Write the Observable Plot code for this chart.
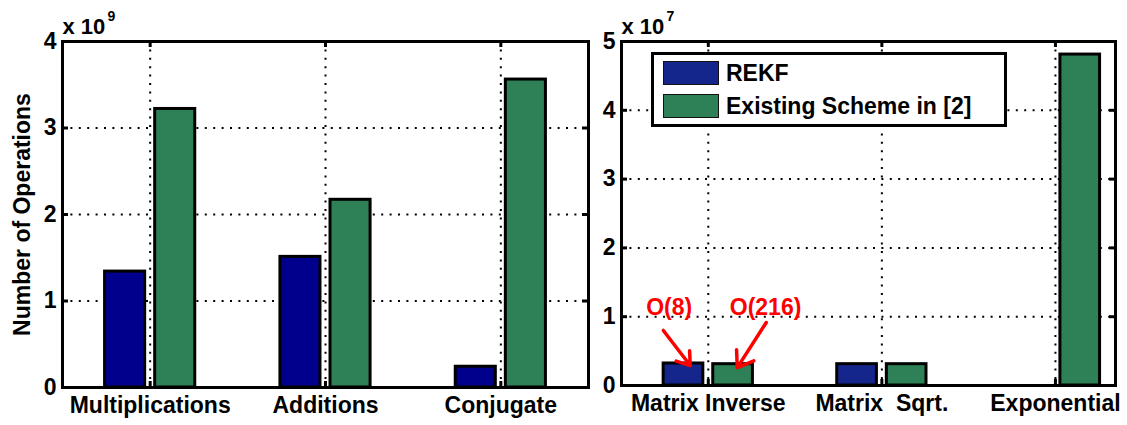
<!DOCTYPE html>
<html><head><meta charset="utf-8">
<script src="https://cdn.jsdelivr.net/npm/d3@7"></script>
<script src="https://cdn.jsdelivr.net/npm/@observablehq/plot@0.6"></script>
<style>
body{margin:0;background:#fff;}
#wrap{position:relative;width:1127px;height:425px;overflow:hidden;background:#fff;font-family:"Liberation Sans",Arial,sans-serif;font-weight:bold;}
#left,#right{position:absolute;top:0}
#left{left:0}
#right{left:600px}
svg{overflow:visible}
svg text{white-space:pre}
#legend{position:absolute;left:651px;top:52px;width:356px;height:75px;box-sizing:border-box;border:3px solid #000;background:#fff;}
.sw{position:absolute;left:9px;width:56px;height:24px;box-sizing:border-box;border:1.5px solid #111;}
.lt{position:absolute;left:72px;font-size:23px;line-height:24px;white-space:nowrap;color:#000;}
</style></head><body>
<div id="wrap"><div id="left"></div><div id="right"></div><div id="legend"></div></div>
<script>
// ---- data ----
const seriesNames = ["REKF", "Existing Scheme in [2]"];
const leftCategories = ["Multiplications", "Additions", "Conjugate"];
const leftREKF = [1.34, 1.51, 0.24];        // x 10^9
const leftExisting = [3.22, 2.17, 3.56];    // x 10^9
const leftYTicks = [0, 1, 2, 3, 4];
const leftExponent = "9";
const rightCategories = ["Matrix Inverse", "Matrix  Sqrt.", "Exponential"];
const rightREKF = [0.32, 0.31, 0];          // x 10^7
const rightExisting = [0.31, 0.31, 4.81];   // x 10^7
const rightYTicks = [0, 1, 2, 3, 4, 5];
const rightExponent = "7";
const annoLabels = ["O(8)", "O(216)"];
const annoX = [0.775, 1.33];
const annoY = [1.03, 1.03];
const arrowX1 = [0.741, 1.334], arrowY1 = [0.80, 0.916];
const arrowX2 = [0.896, 1.167], arrowY2 = [0.29, 0.26];
const leftColors = ["#00008c", "#2e8057"];
const rightColors = ["#14268c", "#2e8057"];

const FONT = "'Liberation Sans', Arial, sans-serif";
const FS = 23;

function panel({cats, rekf, existing, yTicks, xMax, width, marginLeft, marginRight, marginBottom, exponent, colors, extra = [], ylabel = null}) {
  const marginTop = 41, height = 425;
  const H = height - marginTop - marginBottom;
  const W = width - marginLeft - marginRight;
  const rows = [];
  cats.forEach((c, i) => {
    [rekf[i], existing[i]].forEach((v, s) => { if (v > 0) rows.push({cat: c, pos: i + 1, s, value: v}); });
  });
  const gw = Math.min(0.8, 2 / 3.5);   // MATLAB grouped-bar width
  const bw = gw / 2 * 0.8;
  const off = s => (2 * s + 1) * gw / 4 - gw / 2;
  const pos = cats.map((c, i) => i + 1);
  const yMax = yTicks[yTicks.length - 1];
  const dotted = {stroke: "black", strokeOpacity: 1, strokeWidth: 2, strokeDasharray: "2,6.4"};
  const marks = [
    Plot.gridX(pos, dotted),
    Plot.gridY(yTicks.slice(1, -1), dotted),
    Plot.tickX(pos, {x: d => d, insetBottom: H - 6, stroke: "black", strokeWidth: 3}),
    Plot.tickX(pos, {x: d => d, insetTop: H - 6, stroke: "black", strokeWidth: 3}),
    Plot.tickY(yTicks, {y: d => d, insetRight: W - 6, stroke: "black", strokeWidth: 3}),
    Plot.tickY(yTicks, {y: d => d, insetLeft: W - 6, stroke: "black", strokeWidth: 3}),
    Plot.rectY(rows, {x1: d => d.pos + off(d.s) - bw / 2, x2: d => d.pos + off(d.s) + bw / 2, y: "value",
      fill: d => colors[d.s], stroke: "black", strokeWidth: 3}),
    Plot.axisX(pos, {tickFormat: p => cats[p - 1], tickSize: 0, tickPadding: 9, label: null, fontSize: FS, fontWeight: "bold", fill: "black"}),
    Plot.axisY(yTicks, {tickFormat: d => String(d), tickSize: 0, tickPadding: 6, label: null, fontSize: FS, fontWeight: "bold", fill: "black"}),
    Plot.frame({stroke: "black", strokeWidth: 3}),
    Plot.text(["x 10"], {frameAnchor: "top-left", textAnchor: "start", lineAnchor: "bottom", dy: -8, fontSize: 22, fontWeight: "bold"}),
    Plot.text([exponent], {frameAnchor: "top-left", textAnchor: "start", lineAnchor: "bottom", dx: 45, dy: -21, fontSize: 14, fontWeight: "bold"}),
    ...extra
  ];
  if (ylabel) marks.push(Plot.text([ylabel], {frameAnchor: "left", textAnchor: "middle", rotate: -90, dx: -40, fontSize: FS, fontWeight: "bold"}));
  return Plot.plot({
    width, height, marginTop, marginBottom, marginLeft, marginRight,
    style: {fontFamily: FONT, fontWeight: "bold", fontSize: FS + "px", background: "transparent", overflow: "visible", color: "black"},
    x: {type: "linear", domain: [0.5, xMax]},
    y: {domain: [0, yMax]},
    color: {type: "identity"},
    marks
  });
}

document.getElementById("left").append(panel({
  cats: leftCategories, rekf: leftREKF, existing: leftExisting, yTicks: leftYTicks, xMax: 3.5,
  width: 600, marginLeft: 62, marginRight: 12, marginBottom: 38, exponent: leftExponent,
  colors: leftColors, ylabel: "Number of Operations"
}));

const annoData = annoLabels.map((t, i) => ({t, x: annoX[i], y: annoY[i], x1: arrowX1[i], y1: arrowY1[i], x2: arrowX2[i], y2: arrowY2[i]}));
document.getElementById("right").append(panel({
  cats: rightCategories, rekf: rightREKF, existing: rightExisting, yTicks: rightYTicks, xMax: 3.346,
  width: 527, marginLeft: 21, marginRight: 12, marginBottom: 40, exponent: rightExponent,
  colors: rightColors,
  extra: [
    Plot.arrow(annoData, {x1: "x1", y1: "y1", x2: "x2", y2: "y2", stroke: "#ff0000", strokeWidth: 3.5, headLength: 13, headAngle: 70}),
    Plot.text(annoData, {x: "x", y: "y", text: "t", fill: "#ff0000", lineAnchor: "bottom", fontSize: 23, fontWeight: "bold"})
  ]
}));

// legend (inside the right axes)
const legend = document.getElementById("legend");
seriesNames.forEach((name, i) => {
  const sw = document.createElement("div");
  sw.className = "sw"; sw.style.top = (6 + 33 * i) + "px"; sw.style.background = rightColors[i];
  const lt = document.createElement("div");
  lt.className = "lt"; lt.style.top = (6 + 33 * i) + "px"; lt.textContent = name;
  legend.append(sw, lt);
});
</script>
</body></html>
